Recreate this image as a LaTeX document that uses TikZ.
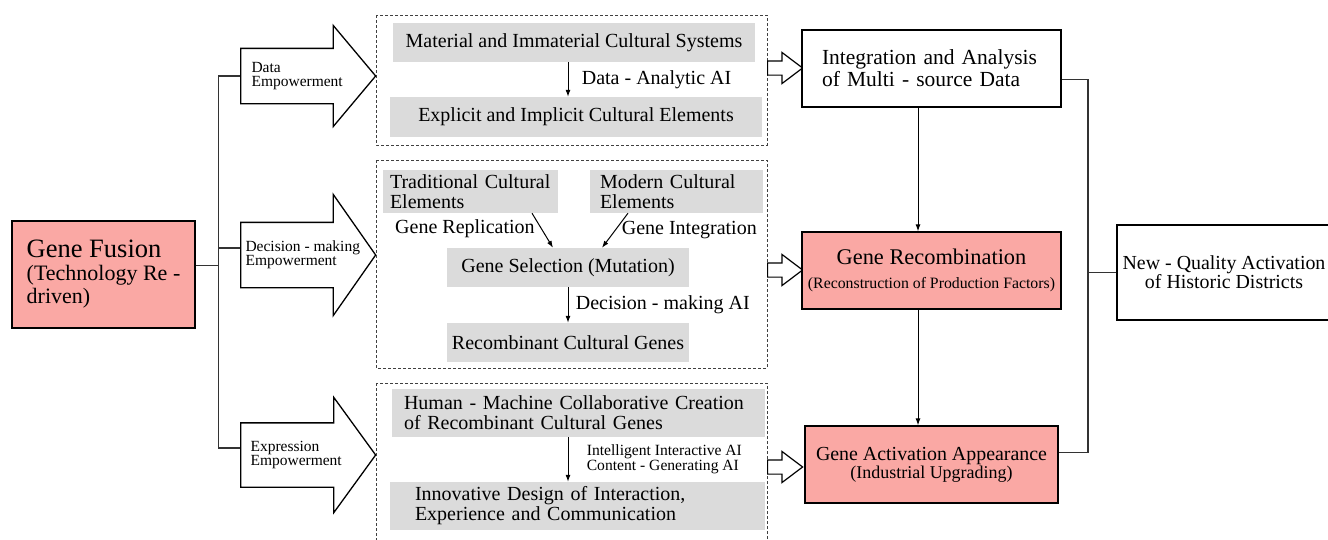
\documentclass[tikz,border=0pt]{standalone}
\usepackage{fontspec}
\setmainfont{Liberation Serif}
\usetikzlibrary{shapes.arrows,arrows.meta}
\definecolor{boxpink}{RGB}{250,168,164}
\definecolor{boxgray}{RGB}{219,219,219}
\newcommand{\fs}[2]{\fontsize{#1}{#2}\selectfont}
\tikzset{
  gbox/.style={fill=boxgray, inner ysep=0pt, font=\fs{20}{20}},
  pbox/.style={draw=black, line width=1.3pt, fill=boxpink},
  wbox/.style={draw=black, line width=1.1pt, fill=white},
  grp/.style={draw=black!75, densely dashed, line width=1pt},
  bigarr/.style={single arrow, draw=black, line width=1.3pt, fill=white, inner xsep=0pt, minimum height=135pt},
  smallarr/.style={single arrow, draw=black, line width=1.2pt, fill=white, inner xsep=0pt, inner ysep=6.5pt, minimum height=35pt, single arrow head extend=8.5pt, single arrow tip angle=74},
  conn/.style={draw=black!80, line width=1.1pt},
  flow/.style={-{Latex[length=7pt,width=5pt]}, line width=1pt},
  lbl/.style={font=\fs{20}{20}},
  emp/.style={font=\fs{15.5}{14}, align=left, anchor=west}
}
\begin{document}
\begin{tikzpicture}[x=1pt,y=-1pt]
\useasboundingbox (0,0) rectangle (1328,539);

% groups
\draw[grp] (376,15) rectangle (767,145);
\draw[grp] (376,160) rectangle (767,368);
\draw[grp] (376,383) rectangle (767,548);

% left
\node[pbox, minimum width=183pt, minimum height=107pt, align=left, font=\fs{22}{23}] (fusion) at (103.5,274.5)
  {{\fs{26.5}{23}Gene Fusion}\\(Technology Re -\\driven)};

\node[bigarr, inner ysep=27pt, single arrow head extend=23pt, single arrow tip angle=100, anchor=tail] (dataemp) at (240,76) {};
\node[bigarr, inner ysep=32pt, single arrow head extend=28pt, single arrow tip angle=110, anchor=tail] (decemp) at (240,255) {};
\node[bigarr, inner ysep=31.5pt, single arrow head extend=25.5pt, single arrow tip angle=108, anchor=tail] (expemp) at (240,455) {};
\node[emp] (datalbl) at ([xshift=8pt]dataemp.tail) {Data\\Empowerment};
\node[emp] (declbl) at ([xshift=2pt]decemp.tail) {Decision - making\\Empowerment};
\node[emp] (explbl) at ([xshift=7pt]expemp.tail) {Expression\\Empowerment};

\draw[conn] ([yshift=9pt]fusion.east) -- ++(23,0) coordinate (hub);
\draw[conn] (dataemp.tail) -| (hub) |- ([yshift=7pt]expemp.tail);
\draw[conn] ([yshift=7pt]decemp.tail) -- ([yshift=7pt]decemp.tail -| hub);

% middle
\coordinate (ax) at (568,0);
\node[gbox, minimum width=362pt, minimum height=39pt] (matsys) at (574,42.5) {Material and Immaterial Cultural Systems};
\node[gbox, minimum width=372pt, minimum height=40pt] (explic) at (576,117) {Explicit and Implicit Cultural Elements};
\draw[flow] (matsys.south -| ax) -- node[lbl, right=10pt] {Data - Analytic AI} (explic.north -| ax);

\node[gbox, text width=161pt, inner xsep=7pt, minimum height=43pt, align=left] (tradel) at (470.5,191.5) {Traditional Cultural\\Elements};
\node[gbox, text width=153pt, inner xsep=10pt, minimum height=43pt, align=left] (model) at (676.5,191.5) {Modern Cultural\\Elements};
\node[gbox, minimum width=242pt, minimum height=39pt] (genesel) at (568,267.5) {Gene Selection (Mutation)};
\node[gbox, minimum width=242pt, minimum height=39pt] (recgen) at (568,342.5) {Recombinant Cultural Genes};
\draw[flow] ([xshift=61.5pt]tradel.south) -- node[lbl, left=3pt, pos=0.45] {Gene Replication} ([xshift=-15pt]genesel.north);
\draw[flow] ([xshift=-48.5pt]model.south) -- node[lbl, right=3pt, pos=0.5] {Gene Integration} ([xshift=34pt]genesel.north);
\draw[flow] (genesel.south -| ax) -- node[lbl, right=4pt] {Decision - making AI} (recgen.north -| ax);

\node[gbox, text width=349pt, inner xsep=12pt, minimum height=48pt, align=left] (hmcc) at (578.5,413) {Human - Machine Collaborative Creation\\of Recombinant Cultural Genes};
\node[gbox, text width=325pt, inner xsep=25pt, minimum height=48pt, align=left] (innov) at (577.5,506) {Innovative Design of Interaction,\\Experience and Communication};
\draw[flow] (hmcc.south -| ax) -- node[right=15pt, align=left, font=\fs{15.6}{15}] {Intelligent Interactive AI\\Content - Generating AI} (innov.north -| ax);

\node[smallarr, anchor=tail] (out1) at (767,68) {};
\node[smallarr, anchor=tail] (out2) at (767,270) {};
\node[smallarr, anchor=tail] (out3) at (767,467) {};

% right
\node[wbox, text width=219pt, inner xsep=20pt, minimum height=77pt, align=left, font=\fs{21.5}{22}] (integ) at (931.5,68.5)
  {Integration and Analysis\\of Multi - source Data};
\node[pbox, minimum width=259pt, minimum height=77pt, align=center, font=\fs{15.8}{24}] (recomb) at (931.5,270.5)
  {{\fs{22.4}{24}Gene Recombination}\\(Reconstruction of Production Factors)};
\node[pbox, minimum width=253pt, minimum height=77pt, align=center, font=\fs{18}{18}] (act) at (931.5,464.5)
  {{\fs{19.9}{18}Gene Activation Appearance}\\(Industrial Upgrading)};
\node[wbox, minimum width=214pt, minimum height=95pt, align=center, font=\fs{19.9}{18}] (newq) at (1224,272.5)
  {New - Quality Activation\\of Historic Districts};

\coordinate (vx) at (918,0);
\draw[flow] (integ.south -| vx) -- (recomb.north -| vx);
\draw[flow] (recomb.south -| vx) -- (act.north -| vx);

\coordinate (bus) at (1088,0);
\coordinate (intout) at ([yshift=-11pt]integ.east);
\coordinate (actin) at ([yshift=12pt]act.east);
\draw[conn] (intout) -| (actin -| bus) -- (actin);
\draw[conn] (newq.west -| bus) -- (newq.west);

\end{tikzpicture}
\end{document}
